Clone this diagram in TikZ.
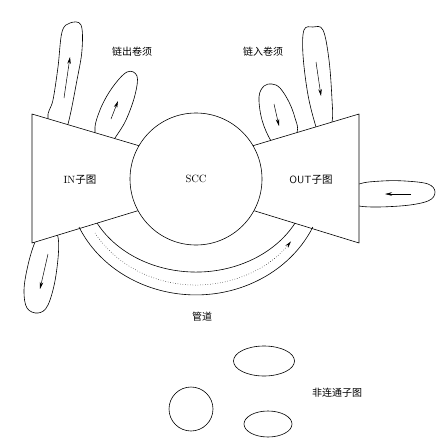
\documentclass[tikz,border=0pt]{standalone}
\usepackage{fontspec}
\newfontfamily\cjk{Noto Sans CJK SC}
\usepackage{tikz}
\usetikzlibrary{arrows.meta,shapes.geometric}

\begin{document}
\begin{tikzpicture}[x=1pt,y=-1pt,line width=0.6pt,font=\fontsize{10.5}{12}\selectfont,
 part/.style={draw,fill=white,line join=round},
 tendril/.style={draw,fill=white},
 flow/.style={-{Stealth[length=7pt,width=3.5pt]},line width=0.5pt},
 lbl/.style={inner sep=1pt},
 cjklbl/.style={inner sep=1pt,font=\cjk\fontsize{10}{12}\selectfont}]
\useasboundingbox (0,0) rectangle (442,442);
% tendrils (bases hidden under the subgraphs)
\draw[tendril] plot[smooth cycle,tension=0.6] coordinates
 {(60,140) (48,118) (53,100) (58,67) (62,32) (70,23) (81,25) (82,50) (77,80) (68,124)};
\draw[tendril] plot[smooth cycle,tension=0.6] coordinates
 {(105,152) (95,132) (100,110) (112,88) (127,72) (137,76) (135,95) (126,120) (115,138)};
\draw[tendril] plot[smooth cycle,tension=0.6] coordinates
 {(284,158) (271,141) (262,120) (259,97) (264,86) (272,84) (280,88) (289,102) (295,118) (297,133)};
\draw[tendril] plot[smooth cycle,tension=0.6] coordinates
 {(324,150) (316,127) (308,95) (303,55) (304,30) (313,27) (323,30) (329,60) (332,100) (332,122)};
\draw[tendril] plot[smooth cycle,tension=0.6] coordinates
 {(340,195) (359,184) (382,181) (405,181) (428,184) (435,192) (428,201) (400,206) (359,206)};
\draw[tendril] plot[smooth cycle,tension=0.6] coordinates
 {(45,222) (35,242) (28,265) (24,290) (27,308) (38,313) (48,305) (56,275) (58,237)};
% IN / OUT subgraphs
\draw[part] (32,114) -- (150,149) -- (150,207) -- (32,243) -- cycle;
\draw[part] (359,114) -- (242,149) -- (242,207) -- (359,243) -- cycle;
% strongly connected core
\node[circle,draw,fill=white,minimum size=132pt,inner sep=0pt] (scc) at (196,179) {SCC};
\node[lbl] (in) at (80,180) {IN\cjk 子图};
\node[lbl] (out) at (311,180) {\sffamily OUT\cjk 子图};
% tube
\draw (79,227) arc[start angle=155.5,end angle=24.5,x radius=128.5,y radius=116];
\draw (97,223) arc[start angle=151.8,end angle=28.2,x radius=112.4,y radius=93];
\draw[flow,dotted] (95,233) arc[start angle=149.4,end angle=36,x radius=117.4,y radius=106];
% arrows inside the tendrils
\coordinate (a1) at (64,98);  \coordinate (b1) at (70,57);
\coordinate (a2) at (111,119); \coordinate (b2) at (118,101);
\coordinate (a3) at (274,104); \coordinate (b3) at (279,126);
\coordinate (a4) at (316,62);  \coordinate (b4) at (321,96);
\coordinate (a5) at (411,194); \coordinate (b5) at (385,194);
\coordinate (a6) at (48,254);  \coordinate (b6) at (40,289);
\foreach \i in {1,...,6}
 \draw[flow] (a\i) -- (b\i);
% disconnected pieces
\node[circle,draw,minimum size=44pt,inner sep=0pt] (dis1) at (191,409) {};
\node[ellipse,draw,minimum width=61pt,minimum height=30pt,inner sep=0pt] (dis2) at (264,361) {};
\node[ellipse,draw,minimum width=48pt,minimum height=26pt,inner sep=0pt] (dis3) at (268,424) {};
% labels
\node[cjklbl] (outt) at (132,52) {链出卷须};
\node[cjklbl] (int) at (263,52) {链入卷须};
\node[cjklbl] (tube) at (202,317) {管道};
\node[cjklbl] (disc) at (337,393) {非连通子图};
\end{tikzpicture}
\end{document}
